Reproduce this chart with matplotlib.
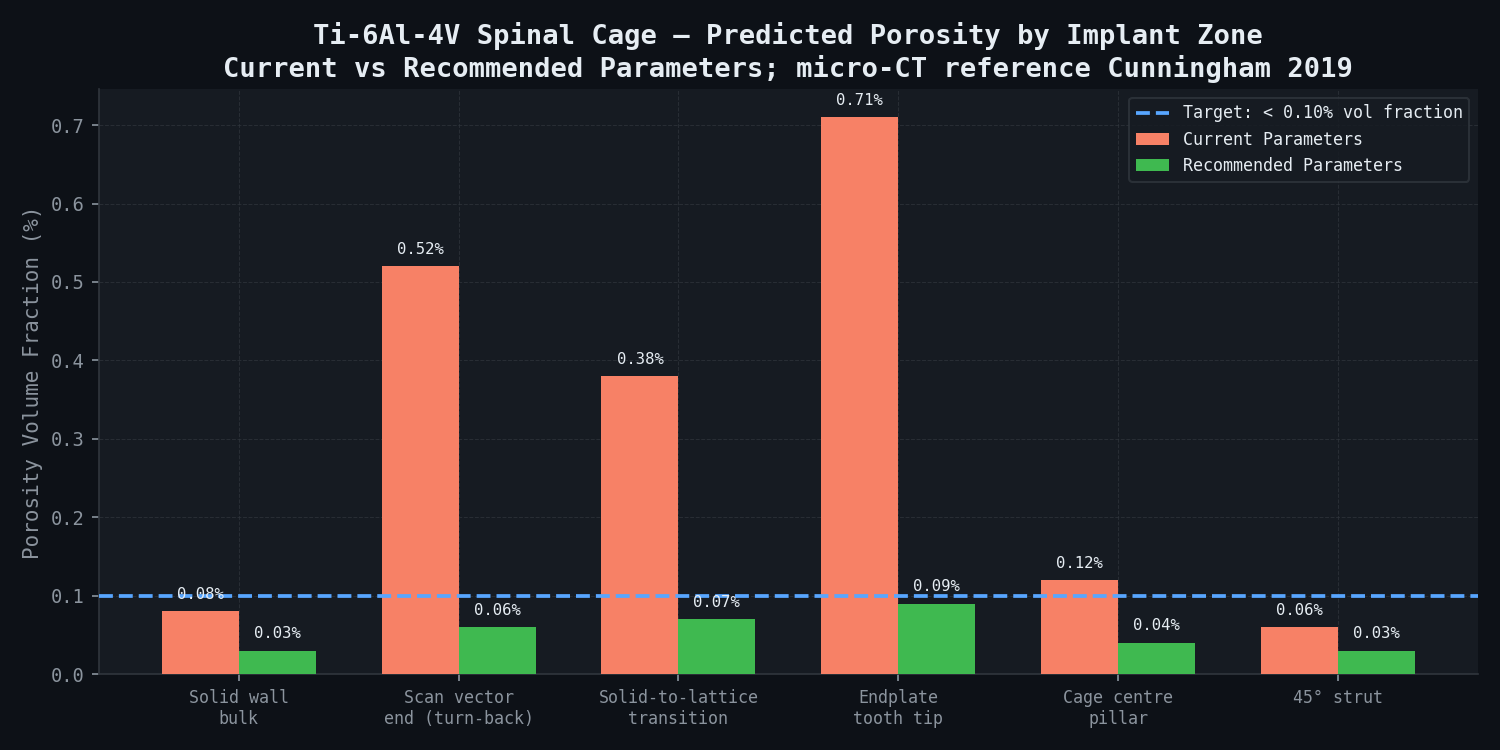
import numpy as np
import matplotlib
matplotlib.use("Agg")
import matplotlib.pyplot as plt

# Datos
zonas = ["Solid wall\nbulk", "Scan vector\nend (turn-back)", "Solid-to-lattice\ntransition",
         "Endplate\ntooth tip", "Cage centre\npillar", "45° strut"]
actual = [0.08, 0.52, 0.38, 0.71, 0.12, 0.06]
recomendado = [0.03, 0.06, 0.07, 0.09, 0.04, 0.03]
objetivo = 0.10

# Colores
fondo = "#0d1117"
panel = "#161b22"
borde = "#30363d"
texto = "#e6edf3"
gris = "#8b949e"

plt.rcParams["font.family"] = ["DejaVu Sans Mono"]

fig, ax = plt.subplots(figsize=(10, 5), dpi=150)
fig.patch.set_facecolor(fondo)
ax.set_facecolor(panel)

x = np.arange(len(zonas))
ancho = 0.35
b1 = ax.bar(x - ancho / 2, actual, ancho, color="#f78166", label="Current Parameters", zorder=3)
b2 = ax.bar(x + ancho / 2, recomendado, ancho, color="#3fb950", label="Recommended Parameters", zorder=3)
ax.axhline(objetivo, color="#58a6ff", linestyle="--", linewidth=1.8, zorder=4,
           label="Target: < 0.10% vol fraction")

# Etiquetas de valores
for barras in (b1, b2):
    for b in barras:
        h = b.get_height()
        ax.text(b.get_x() + b.get_width() / 2, h + 0.012, f"{h:.2f}%", ha="center", va="bottom",
                color=texto, fontsize=7.5, zorder=5)

ax.set_xticks(x)
ax.set_xticklabels(zonas, fontsize=8, color=gris)
ax.tick_params(axis="y", labelsize=9, colors=gris)
ax.tick_params(axis="x", colors=gris)
ax.set_ylabel("Porosity Volume Fraction (%)", fontsize=10, color=gris)
ax.set_title("Ti-6Al-4V Spinal Cage — Predicted Porosity by Implant Zone\n"
             "Current vs Recommended Parameters; micro-CT reference Cunningham 2019",
             fontsize=13, fontweight="bold", color=texto)

ax.grid(True, color=borde, linestyle="--", linewidth=0.5, alpha=0.7, zorder=0)
for s in ("top", "right"):
    ax.spines[s].set_visible(False)
for s in ("left", "bottom"):
    ax.spines[s].set_color(borde)

leg = ax.legend(loc="upper right", fontsize=8, facecolor=panel, edgecolor=borde, labelcolor=texto)

plt.tight_layout()
plt.savefig("out.png", dpi=150, facecolor=fondo)
